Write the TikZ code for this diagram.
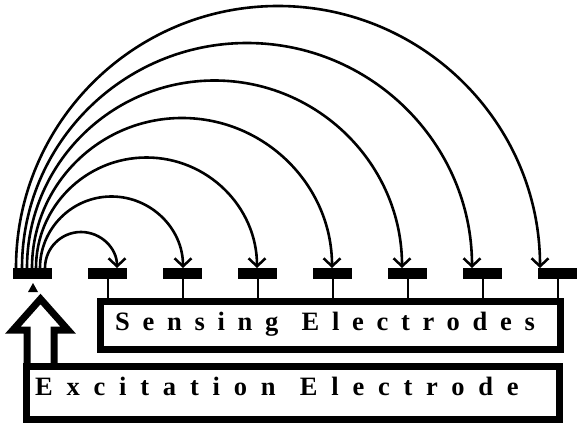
\documentclass[tikz,border=0pt]{standalone}
\usepackage{fontspec}
\setmainfont{Liberation Serif}
\usetikzlibrary{arrows.meta}
\tikzset{
  bar/.style={fill=black, inner sep=0pt, minimum width=39pt, minimum height=11pt},
  stem/.style={line width=2pt},
  conn/.style={line width=2.6pt, -{Straight Barb[length=8pt,width=17pt,line width=2.5pt]}},
  bigbox/.style={draw, line width=7pt, inner sep=0pt},
  lbl/.style={inner sep=0pt, font=\fontsize{26.5}{30}\selectfont\bfseries},
}
\begin{document}
\begin{tikzpicture}[x=1pt,y=1pt]
\useasboundingbox (0,0) rectangle (577,423);
% boxes
\node[bigbox, minimum width=460pt, minimum height=48pt] (sense) at (330.5,97.5) {};
\node[bigbox, minimum width=533pt, minimum height=53pt] (excite) at (293,30) {};
\node[lbl, anchor=base west] (stxt) at (115,93) {\addfontfeature{LetterSpace=48}Sensing\hspace{4pt} Electrodes};
\node[lbl, anchor=base west] (etxt) at (35,28) {\addfontfeature{LetterSpace=52}Excitation\hspace{4pt} Electrode};
% electrodes
\foreach \i in {0,...,7} {
  \node[bar] (e\i) at (32.5+75*\i,149.5) {};
}
\foreach \i in {1,...,7} {
  \draw[stem] (e\i.south) -- (e\i.south |- sense.north);
}
% hollow excitation arrow
\draw[line width=7pt, miter limit=10, line join=miter]
  (27,57) -- (27,93) -- (13,93) -- (40.5,124) -- (68,93) -- (54,93) -- (54,57);
\fill (33,140) -- (28,131) -- (38,131) -- cycle;
% arcs
\coordinate (s1) at (45,155);
\coordinate (s2) at (40,155);
\coordinate (s3) at (36,155);
\coordinate (s4) at (32,155);
\coordinate (s5) at (27,155);
\coordinate (s6) at (22,155);
\coordinate (s7) at (16,155);
\draw[conn] (s1) arc[start angle=180, end angle=0, radius=36];
\draw[conn] (s2) arc[start angle=180, end angle=0, radius=71.5];
\draw[conn] (s3) arc[start angle=180, end angle=0, radius=110.5];
\draw[conn] (s4) arc[start angle=180, end angle=0, radius=150];
\draw[conn] (s5) arc[start angle=180, end angle=0, radius=187.5];
\draw[conn] (s6) arc[start angle=180, end angle=0, radius=225];
\draw[conn] (s7) arc[start angle=180, end angle=0, radius=262];
\end{tikzpicture}
\end{document}
